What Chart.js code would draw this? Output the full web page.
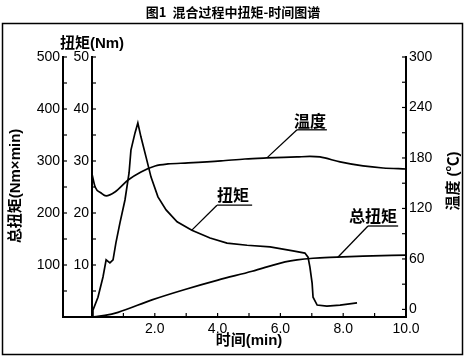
<!DOCTYPE html>
<html><head><meta charset="utf-8">
<script src="https://cdn.jsdelivr.net/npm/chart.js@4.4.1/dist/chart.umd.min.js"></script>
<style>html,body{margin:0;padding:0;background:#fff;}canvas{display:block;}</style>
</head><body>
<canvas id="c" width="466" height="358"></canvas>
<script>
// ---- data ----
const torqueTime = [0, 0.03, 0.19, 0.35, 0.45, 0.57, 0.67, 0.76, 0.89, 1.05, 1.18, 1.24, 1.37, 1.46, 1.56, 1.72, 1.88, 2.10, 2.36, 2.71, 3.18, 3.76, 4.30, 4.94, 5.67, 6.40, 6.78, 6.88, 6.94, 7.01, 7.04, 7.17, 7.48, 7.90, 8.44];
const torqueVal  = [0, 1.3, 3.8, 7.7, 11.0, 10.4, 11.0, 14.2, 18.1, 22.5, 27.7, 32.1, 35.4, 37.3, 34.6, 30.8, 26.9, 23.1, 20.6, 18.3, 16.7, 15.2, 14.2, 13.8, 13.5, 12.7, 12.3, 11.5, 9.6, 6.5, 3.8, 2.3, 2.1, 2.3, 2.7];
const tempTime = [0, 0.1, 0.29, 0.45, 0.73, 1.15, 1.56, 2.01, 2.42, 3.06, 4.11, 4.87, 5.57, 6.53, 6.94, 7.26, 7.90, 8.63, 9.27, 10.0];
const tempVal  = [161, 145.5, 138.4, 134.9, 139.6, 153.8, 163.4, 170.5, 172.9, 174.1, 176.5, 178.8, 180, 181.2, 181.8, 181.2, 175.3, 170.5, 168.1, 166.9];
const totalTime = [0, 0.41, 0.83, 1.91, 2.96, 4.01, 5.10, 6.15, 6.53, 7.04, 7.80, 8.63, 10.0];
const totalVal  = [0, 3, 9, 33, 53, 71, 88, 106, 110, 113, 115, 117, 119];
const xTicks = [2, 4, 6, 8, 10];
const totalTicks = [100, 200, 300, 400, 500];
const torqueTicks = [10, 20, 30, 40, 50];
const tempTicks = [0, 60, 120, 180, 240, 300];

const toXY = (xs, ys) => xs.map((x, i) => ({x: x, y: ys[i]}));
const NUM = '"Liberation Sans", Arial, sans-serif';
const MIX = '"Liberation Sans", "Noto Sans CJK SC", sans-serif';
const CJK = '"Noto Sans CJK SC", sans-serif';

Chart.defaults.color = '#000';

const decor = {
  id: 'decor',
  beforeDraw(chart) {
    const ctx = chart.ctx;
    ctx.save(); ctx.fillStyle = '#fff'; ctx.fillRect(0, 0, chart.width, chart.height); ctx.restore();
  },
  afterDraw(chart) {
    const ctx = chart.ctx;
    const {x, yTot, yTq, yT} = chart.scales;
    ctx.save();
    ctx.strokeStyle = '#000'; ctx.fillStyle = '#000';
    // outer frame
    ctx.lineWidth = 1.5;
    ctx.strokeRect(2.5, 23.5, 460, 331);
    // baseline extension under inner axis
    const y0 = yTot.getPixelForValue(0);
    ctx.lineWidth = 2;
    ctx.beginPath(); ctx.moveTo(yTot.right - 1, y0); ctx.lineTo(x.right, y0); ctx.stroke();
    // inward ticks
    ctx.lineWidth = 1.2;
    const seg = (a, b, c, d) => { ctx.beginPath(); ctx.moveTo(a, b); ctx.lineTo(c, d); ctx.stroke(); };
    for (let v = 50; v <= 500; v += 50) { const p = yTot.getPixelForValue(v); seg(yTot.right, p, yTot.right + 4, p); }
    for (let v = 5; v <= 50; v += 5) { const p = yTq.getPixelForValue(v); seg(yTq.right, p, yTq.right + 4, p); }
    for (let v = 0; v <= 300; v += 30) { const p = yT.getPixelForValue(v); seg(yT.left, p, yT.left - 4, p); }
    for (let v = 1; v <= 10; v += 1) { const p = x.getPixelForValue(v); seg(p, y0, p, y0 - 4); }
    // annotation leaders (data coordinates on time / total-torque scales)
    const px = t => x.getPixelForValue(t), py = s => yTot.getPixelForValue(s);
    ctx.lineWidth = 1.3;
    // 温度
    seg(px(5.57), py(306), px(6.53), py(360)); seg(px(6.53), py(360), px(7.48), py(360));
    // 扭矩
    seg(px(3.18), py(167), px(3.98), py(215)); seg(px(3.98), py(215), px(5.10), py(215));
    // 总扭矩
    seg(px(7.83), py(115), px(8.79), py(175)); seg(px(8.79), py(175), px(9.75), py(175));
    ctx.textAlign = 'center'; ctx.textBaseline = 'middle';
    ctx.font = 'bold 16px ' + CJK;
    ctx.fillText('温度', px(6.94), py(378));
    ctx.fillText('扭矩', px(4.49), py(235));
    ctx.fillText('总扭矩', px(8.95), py(194));
    // title
    ctx.font = 'bold 13px ' + CJK;
    ctx.fillText('图1  混合过程中扭矩-时间图谱', 233, 12);
    // axis titles
    ctx.font = 'bold 15px ' + MIX;
    ctx.fillText('扭矩(Nm)', 92, 44);
    ctx.fillText('时间(min)', 249, 341);
    ctx.save(); ctx.translate(16, 186); ctx.rotate(-Math.PI / 2);
    ctx.fillText('总扭矩(Nm×min)', 0, 0); ctx.restore();
    ctx.save(); ctx.translate(454, 181); ctx.rotate(-Math.PI / 2);
    ctx.fillText('温度 (℃)', 0, 0); ctx.restore();
    ctx.restore();
  }
};

const fixTicks = arr => (scale) => { scale.ticks = arr.map(v => ({value: v})); };
const tickFont = {family: NUM, size: 14};

new Chart(document.getElementById('c'), {
  type: 'line',
  data: {
    datasets: [
      {label: '扭矩', data: toXY(torqueTime, torqueVal), yAxisID: 'yTq', borderColor: '#000', borderWidth: 1.7, pointRadius: 0, tension: 0},
      {label: '温度', data: toXY(tempTime, tempVal), yAxisID: 'yT', borderColor: '#000', borderWidth: 1.7, pointRadius: 0, cubicInterpolationMode: 'monotone'},
      {label: '总扭矩', data: toXY(totalTime, totalVal), yAxisID: 'yTot', borderColor: '#000', borderWidth: 1.7, pointRadius: 0, cubicInterpolationMode: 'monotone'}
    ]
  },
  options: {
    responsive: false, animation: false, devicePixelRatio: 1,
    layout: {padding: {top: 57, left: 0, right: 0, bottom: 0}},
    plugins: {legend: {display: false}, tooltip: {enabled: false}},
    scales: {
      x: {type: 'linear', min: 0, max: 10, position: 'bottom',
          afterBuildTicks: fixTicks(xTicks),
          afterFit: s => { s.height = 41; },
          grid: {drawOnChartArea: false, drawTicks: false},
          border: {display: true, color: '#000', width: 2},
          ticks: {font: tickFont, padding: 4, maxRotation: 0, callback: v => Number(v).toFixed(1)}},
      yTot: {type: 'linear', min: 0, max: 500, position: 'left', weight: 2,
          afterBuildTicks: fixTicks(totalTicks),
          afterFit: s => { s.width = 63; },
          grid: {drawOnChartArea: false, drawTicks: false},
          border: {display: true, color: '#000', width: 2},
          ticks: {font: tickFont, padding: 3}},
      yTq: {type: 'linear', min: 0, max: 50, position: 'left', weight: 1,
          afterBuildTicks: fixTicks(torqueTicks),
          afterFit: s => { s.width = 29; },
          grid: {drawOnChartArea: false, drawTicks: false},
          border: {display: true, color: '#000', width: 2},
          ticks: {font: tickFont, padding: 3}},
      yT: {type: 'linear', min: -9, max: 300, position: 'right',
          afterBuildTicks: fixTicks(tempTicks),
          afterFit: s => { s.width = 60; },
          grid: {drawOnChartArea: false, drawTicks: false},
          border: {display: true, color: '#000', width: 2},
          ticks: {font: tickFont, padding: 3}}
    }
  },
  plugins: [decor]
});
</script>
</body></html>
